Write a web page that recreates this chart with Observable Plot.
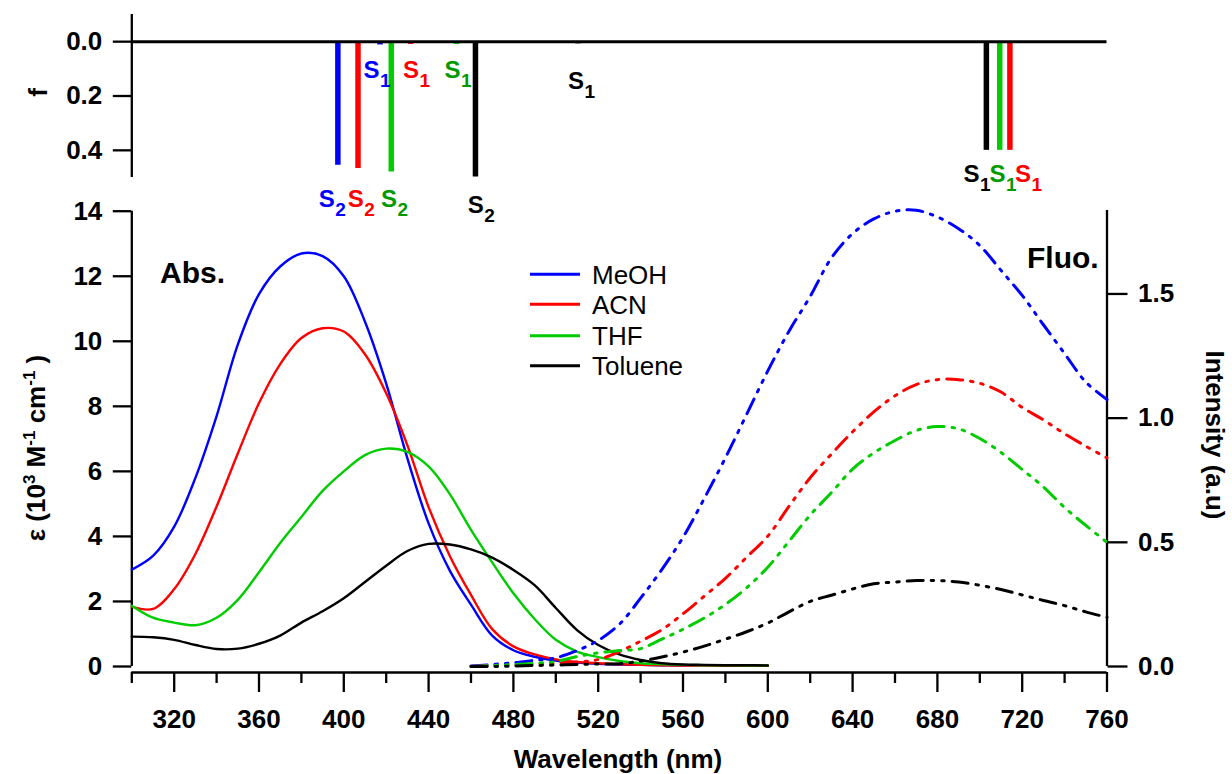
<!DOCTYPE html>
<html><head><meta charset="utf-8">
<script src="https://cdn.jsdelivr.net/npm/d3@7"></script>
<script src="https://cdn.jsdelivr.net/npm/@observablehq/plot@0.6"></script>
<style>
body{margin:0;background:#fff;}
#chart{position:relative;width:1232px;height:774px;overflow:hidden;background:#fff;}
#chart svg{position:absolute;left:0;top:0;}
</style></head><body><div id="chart"></div>
<script>
const FONT = '"Liberation Sans", Arial, Helvetica, sans-serif';

// ---- series ----
const solvents = ["MeOH", "ACN", "THF", "Toluene"];
const lineColors = {MeOH: "#0000ff", ACN: "#ff0000", THF: "#00cc00", Toluene: "#000000"};
const labelColors = {MeOH: "#0000ff", ACN: "#ff0000", THF: "#009900", Toluene: "#000000"};

// absorption (left axis, 10^3 M^-1 cm^-1)
const absWavelengths = [300,310,320,330,340,350,360,370,380,390,400,410,420,430,440,450,460,470,480,490,500,510,520,530,540,550,560,570,580,590,600];
const absMeOH    = [2.98,3.4,4.3,5.8,7.7,9.9,11.45,12.3,12.7,12.62,12.0,10.6,8.7,6.4,4.4,2.95,1.9,0.95,0.5,0.3,0.18,0.12,0.08,0.06,0.05,0.04,0.04,0.03,0.03,0.03,0.02];
const absACN     = [1.84,1.77,2.38,3.46,4.92,6.55,8.1,9.3,10.1,10.4,10.3,9.6,8.4,6.8,4.9,3.4,2.2,1.15,0.62,0.37,0.22,0.14,0.1,0.07,0.05,0.04,0.03,0.03,0.02,0.02,0.02];
const absTHF     = [1.87,1.5,1.35,1.27,1.5,2.05,2.9,3.8,4.6,5.4,6.0,6.5,6.7,6.6,6.15,5.3,4.2,3.2,2.25,1.46,0.82,0.46,0.29,0.17,0.1,0.07,0.05,0.04,0.04,0.03,0.03];
const absToluene = [0.92,0.9,0.82,0.66,0.54,0.55,0.7,0.95,1.35,1.7,2.1,2.6,3.1,3.55,3.77,3.75,3.6,3.35,2.97,2.5,1.8,1.12,0.66,0.37,0.2,0.1,0.06,0.05,0.04,0.04,0.03];

// fluorescence (right axis, a.u.)
const fluoWavelengths = [460,470,480,490,500,510,520,530,540,550,560,570,580,590,600,610,620,630,640,650,660,670,680,690,700,710,720,730,740,750,760];
const fluoMeOH    = [0.002,0.008,0.015,0.025,0.035,0.064,0.105,0.17,0.275,0.39,0.52,0.676,0.84,1.015,1.19,1.35,1.49,1.645,1.743,1.802,1.833,1.837,1.81,1.763,1.695,1.595,1.494,1.376,1.26,1.145,1.075];
const fluoACN     = [0.0,0.003,0.006,0.01,0.014,0.018,0.028,0.06,0.102,0.148,0.212,0.283,0.355,0.44,0.525,0.645,0.76,0.855,0.945,1.025,1.09,1.135,1.155,1.155,1.14,1.105,1.043,0.993,0.937,0.887,0.84];
const fluoTHF     = [0.0,0.004,0.008,0.013,0.02,0.04,0.055,0.064,0.072,0.11,0.15,0.195,0.25,0.317,0.40,0.504,0.61,0.70,0.795,0.86,0.91,0.95,0.966,0.957,0.918,0.862,0.793,0.723,0.64,0.568,0.50];
const fluoToluene = [0.0,0.0,0.002,0.004,0.006,0.008,0.01,0.011,0.022,0.038,0.058,0.082,0.11,0.14,0.175,0.22,0.262,0.287,0.312,0.333,0.34,0.346,0.346,0.34,0.327,0.31,0.288,0.266,0.245,0.22,0.198];

// calculated transitions (top panel, oscillator strength f)
const stickWavelengths = [397.2, 406.7, 422.4, 462.1, 417.1, 431.5, 453.2, 510.4, 703.1, 709.4, 714.2];
const stickF           = [0.455, 0.467, 0.48, 0.498, 0.012, 0.01, 0.01, 0.008, 0.40, 0.40, 0.40];
const stickSolvent     = ["MeOH","ACN","THF","Toluene","MeOH","ACN","THF","Toluene","Toluene","THF","ACN"];

// state labels (annotation anchor in data coords: wavelength, f)
const stateLabelWl      = [388.2, 401.9, 417.6, 458.5, 409.3, 427.9, 447.5, 505.7, 692.3, 704.6, 716.6];
const stateLabelF       = [0.608, 0.608, 0.608, 0.632, 0.133, 0.133, 0.133, 0.174, 0.516, 0.516, 0.516];
const stateLabelIndex   = ["2","2","2","2","1","1","1","1","1","1","1"];
const stateLabelSolvent = ["MeOH","ACN","THF","Toluene","MeOH","ACN","THF","Toluene","Toluene","THF","ACN"];

// ticks
const xMajorTicks = [320,360,400,440,480,520,560,600,640,680,720,760];
const xMinorTicks = [300,340,380,420,460,500,540,580,620,660,700,740];
const absTicks = [0,2,4,6,8,10,12,14];
const fluoTicks = [0,0.5,1.0,1.5];
const fTicks = [0,0.2,0.4];

// ---- tables ----
const absSeries = {MeOH: absMeOH, ACN: absACN, THF: absTHF, Toluene: absToluene};
const fluoSeries = {MeOH: fluoMeOH, ACN: fluoACN, THF: fluoTHF, Toluene: fluoToluene};
const absRows = solvents.flatMap(s => absWavelengths.map((wl, i) => ({wl, v: absSeries[s][i], solvent: s, color: lineColors[s]})));
const fluoRows = solvents.flatMap(s => fluoWavelengths.map((wl, i) => ({wl, v: fluoSeries[s][i], solvent: s, color: lineColors[s]})));
const sticks = stickWavelengths.map((wl, i) => ({wl, f: stickF[i], color: lineColors[stickSolvent[i]]}));
const stateLabels = stateLabelWl.map((wl, i) => ({wl, f: stateLabelF[i], n: stateLabelIndex[i], color: labelColors[stateLabelSolvent[i]]}));

const W = 1232;
const X = {domain: [300, 760], range: [131.3, 1106.5]};
const margins = {marginLeft: 131.3, marginRight: 125.5};
const style = {background: "transparent", fontFamily: FONT, fontSize: "26px", fontWeight: "bold", overflow: "visible", color: "#000"};
const AXW = 2.3;

const absPlot = Plot.plot({
  width: W, height: 774, ...margins, marginTop: 210, marginBottom: 102,
  x: X,
  y: {domain: [0, 14], range: [666, 210.7]},
  color: {type: "identity"},
  style,
  marks: [
    Plot.axisX({ticks: xMinorTicks, tickSize: 11, tickFormat: () => "", strokeWidth: AXW, label: null}),
    Plot.axisX({ticks: xMajorTicks, tickSize: 20, tickPadding: 17, strokeWidth: AXW, tickFormat: d => String(d), label: null}),
    Plot.axisY({ticks: absTicks, tickSize: 18.5, tickPadding: 11, strokeWidth: AXW, tickFormat: d => String(d), label: null}),
    Plot.ruleY([0], {dy: 6, strokeWidth: AXW}),
    Plot.ruleX([300], {y1: 0, y2: 14, strokeWidth: AXW}),
    Plot.line(absRows, {x: "wl", y: "v", z: "solvent", stroke: "color", strokeWidth: 2.4, curve: "catmull-rom"})
  ]
});

const fluoPlot = Plot.plot({
  width: W, height: 774, ...margins, marginTop: 210, marginBottom: 102,
  x: {...X, axis: null},
  y: {domain: [0, 1.836], range: [666, 210]},
  color: {type: "identity"},
  style,
  marks: [
    Plot.axisY({anchor: "right", ticks: fluoTicks, tickFormat: d3.format(".1f"), tickSize: 20, tickPadding: 11, strokeWidth: AXW, label: null}),
    Plot.ruleX([760], {y1: 0, y2: 1.836, strokeWidth: AXW}),
    Plot.line(fluoRows, {x: "wl", y: "v", z: "solvent", stroke: "color", strokeWidth: 3, strokeDasharray: "16,8,2.5,8,2.5,8", curve: "catmull-rom"})
  ]
});

const topPlot = Plot.plot({
  width: W, height: 230, ...margins, marginTop: 14, marginBottom: 53,
  x: {...X, axis: null},
  y: {domain: [-0.1, 0.5], range: [14, 177]},
  color: {type: "identity"},
  style,
  marks: [
    Plot.axisY({ticks: fTicks, tickFormat: d3.format(".1f"), tickSize: 18.5, tickPadding: 11, strokeWidth: AXW, label: null}),
    Plot.ruleX([300], {strokeWidth: AXW}),
    Plot.ruleX(sticks, {x: "wl", y1: 0, y2: "f", stroke: "color", strokeWidth: 5.5}),
    Plot.ruleY([0], {strokeWidth: 3}),
    Plot.text(stateLabels, {x: "wl", y: "f", text: () => "S", fill: "color", textAnchor: "start", lineAnchor: "bottom", fontSize: 24, fontWeight: "bold"}),
    Plot.text(stateLabels, {x: "wl", y: "f", text: "n", fill: "color", textAnchor: "start", lineAnchor: "bottom", fontSize: 19, fontWeight: "bold", dx: 16.5, dy: 9})
  ]
});

const chart = document.getElementById("chart");
chart.append(absPlot, fluoPlot, topPlot);

// ---- annotations: axis titles, panel labels, legend ----
const ann = d3.select(chart).append("svg")
  .attr("width", W).attr("height", 774)
  .style("font-family", FONT).style("overflow", "visible");

ann.append("text").attr("x", 618).attr("y", 768).attr("text-anchor", "middle")
  .attr("font-size", 26).attr("font-weight", "bold").text("Wavelength (nm)");

const yl = ann.append("text").attr("transform", "translate(45,448) rotate(-90)")
  .attr("text-anchor", "middle").attr("font-size", 26).attr("font-weight", "bold");
yl.append("tspan").text("ε (10");
yl.append("tspan").attr("dy", -10).attr("font-size", 17).text("3");
yl.append("tspan").attr("dy", 10).text(" M");
yl.append("tspan").attr("dy", -10).attr("font-size", 17).text("-1");
yl.append("tspan").attr("dy", 10).text(" cm");
yl.append("tspan").attr("dy", -10).attr("font-size", 17).text("-1");
yl.append("tspan").attr("dy", 10).text(" )");

ann.append("text").attr("transform", "translate(1206,435) rotate(90)")
  .attr("text-anchor", "middle").attr("font-size", 26).attr("font-weight", "bold").text("Intensity (a.u)");

ann.append("text").attr("transform", "translate(47,92.5) rotate(-90)")
  .attr("text-anchor", "middle").attr("font-size", 26).attr("font-weight", "bold").text("f");

ann.append("text").attr("x", 160).attr("y", 283).attr("font-size", 30).attr("font-weight", "bold").text("Abs.");
ann.append("text").attr("x", 1027).attr("y", 268).attr("font-size", 30).attr("font-weight", "bold").text("Fluo.");

const legendY = [274.3, 304.3, 335.7, 365.7];
solvents.forEach((s, i) => {
  ann.append("line").attr("x1", 530).attr("x2", 580).attr("y1", legendY[i]).attr("y2", legendY[i])
    .attr("stroke", lineColors[s]).attr("stroke-width", 3);
  ann.append("text").attr("x", 592).attr("y", legendY[i] + 9.3).attr("font-size", 26).text(s);
});
</script></body></html>
